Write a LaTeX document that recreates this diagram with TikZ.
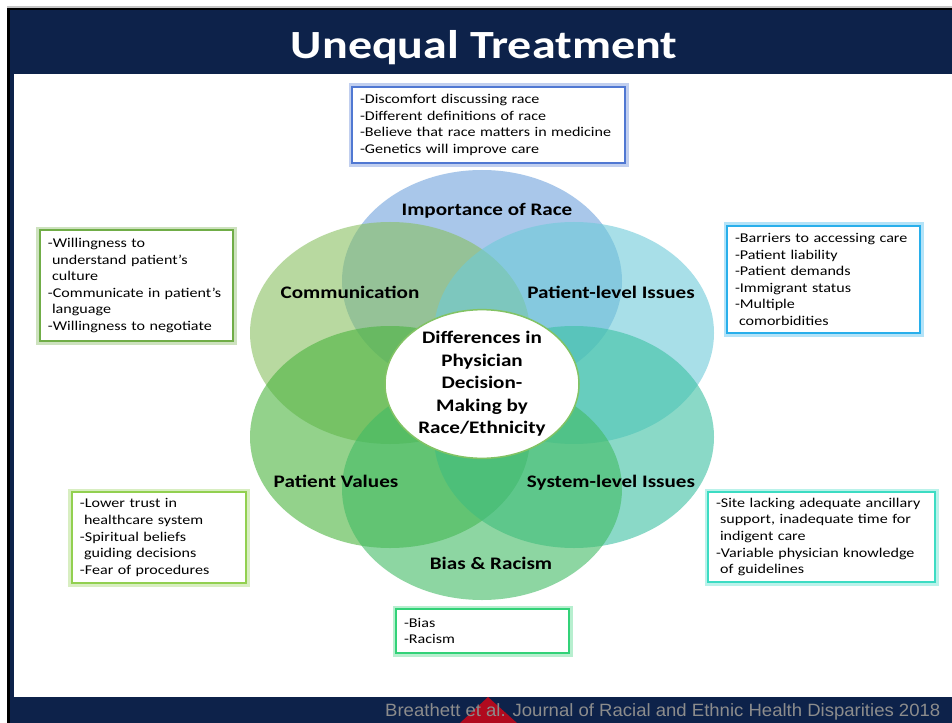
\documentclass[tikz,border=0pt]{standalone}
\usepackage{fontspec}
\setmainfont{Carlito}[FakeStretch=1.2]
\newfontfamily\footfont{Liberation Sans}
\usetikzlibrary{shapes.geometric}
\definecolor{navy}{RGB}{13,34,74}
\definecolor{crimson}{RGB}{176,10,30}
\definecolor{footgrey}{RGB}{140,140,140}
\definecolor{cRace}{RGB}{112,163,220}
\definecolor{cComm}{RGB}{137,192,97}
\definecolor{cPat}{RGB}{110,203,217}
\definecolor{cVal}{RGB}{75,180,63}
\definecolor{cSys}{RGB}{60,193,163}
\definecolor{cBias}{RGB}{66,187,100}
\definecolor{bRace}{RGB}{80,120,210}
\definecolor{bComm}{RGB}{112,173,71}
\definecolor{bPat}{RGB}{40,175,235}
\definecolor{bVal}{RGB}{146,208,80}
\definecolor{bSys}{RGB}{60,220,195}
\definecolor{bBias}{RGB}{50,210,120}
\definecolor{ring}{RGB}{130,195,100}
\tikzset{
  petal/.style={fill=#1, fill opacity=0.6},
  lbl/.style={font=\fontsize{17.6bp}{22.5bp}\selectfont\bfseries, text=black, inner sep=0, anchor=base},
  infobox/.style={draw=#1, line width=1.6bp, fill=white, align=left,
     preaction={draw=#1, line width=7bp, draw opacity=0.35},
     inner xsep=8bp, inner ysep=0bp,
     font=\fontsize{13.4bp}{16.6bp}\selectfont, text=black},
}
\newcommand{\ind}{\hspace*{0.3em}}
\begin{document}
\begin{tikzpicture}[x=1bp,y=-1bp]
\useasboundingbox (0,0) rectangle (952,723);
\fill[white] (0,0) rectangle (952,723);
\fill[gray!45] (7,6) rectangle (952,8);
\fill[black] (7,8) rectangle (952,723);
\fill[navy] (10,10) rectangle (952,723);
\fill[white] (14,74) rectangle (952,697);
\fill[crimson] (488,697) -- (460,723) -- (517,723) -- cycle;

% title
\node[text=white, font=\fontsize{40bp}{48bp}\selectfont\bfseries, inner sep=0, anchor=base] (title) at (484,59) {Unequal Treatment};

% petals
\fill[petal=cRace] (482,281) ellipse [x radius=140bp, y radius=111bp];
\fill[petal=cComm] (390,333) ellipse [x radius=140bp, y radius=111bp];
\fill[petal=cPat]  (574,333) ellipse [x radius=140bp, y radius=111bp];
\fill[petal=cVal]  (390,437) ellipse [x radius=140bp, y radius=111bp];
\fill[petal=cSys]  (574,437) ellipse [x radius=140bp, y radius=111bp];
\fill[petal=cBias] (482,489) ellipse [x radius=140bp, y radius=111bp];

% centre
\node[ellipse, draw=ring, line width=1.5bp, fill=white, minimum width=194bp, minimum height=144bp, inner sep=0,
      align=center, font=\fontsize{17.6bp}{22.5bp}\selectfont\bfseries] (core) at (482,384)
  {Differences in\\Physician\\Decision-\\Making by\\Race/Ethnicity};

% labels
\node[lbl] (lRace) at (487,215) {Importance of Race};
\node[lbl] (lComm) at (350,298) {Communication};
\node[lbl] (lPat)  at (611,298) {Patient-level Issues};
\node[lbl] (lVal)  at (336,487) {Patient Values};
\node[lbl] (lSys)  at (611,487) {System-level Issues};
\node[lbl] (lBias) at (491,569) {Bias \& Racism};

% boxes
\node[infobox=bRace, text width=257bp, minimum height=76bp] (bxRace) at (488.5,125)
  {-Discomfort discussing race\\-Different definitions of race\\-Believe that race matters in medicine\\-Genetics will improve care};
\node[infobox=bComm, text width=177bp, minimum height=111bp] (bxComm) at (136.5,285.5)
  {-Willingness to\\\ind understand patient's\\\ind culture\\-Communicate in patient's\\\ind language\\-Willingness to negotiate};
\node[infobox=bPat, text width=177bp, minimum height=107bp] (bxPat) at (823.5,279.5)
  {-Barriers to accessing care\\-Patient liability\\-Patient demands\\-Immigrant status\\-Multiple\\\ind comorbidities};
\node[infobox=bVal, text width=158bp, minimum height=91bp] (bxVal) at (159,537.5)
  {-Lower trust in\\\ind healthcare system\\-Spiritual beliefs\\\ind guiding decisions\\-Fear of procedures};
\node[infobox=bSys, text width=211bp, minimum height=90bp] (bxSys) at (821.5,537)
  {-Site lacking adequate ancillary\\\ind support, inadequate time for\\\ind indigent care\\-Variable physician knowledge\\\ind of guidelines};
\node[infobox=bBias, text width=157bp, minimum height=44bp] (bxBias) at (482.5,631)
  {-Bias\\-Racism};

% footer
\node[anchor=base west, text=footgrey, inner sep=0] (cite) at (385,716)
  {\resizebox{555bp}{12.9bp}{\footfont Breathett et al. Journal of Racial and Ethnic Health Disparities 2018}};
\end{tikzpicture}
\end{document}
